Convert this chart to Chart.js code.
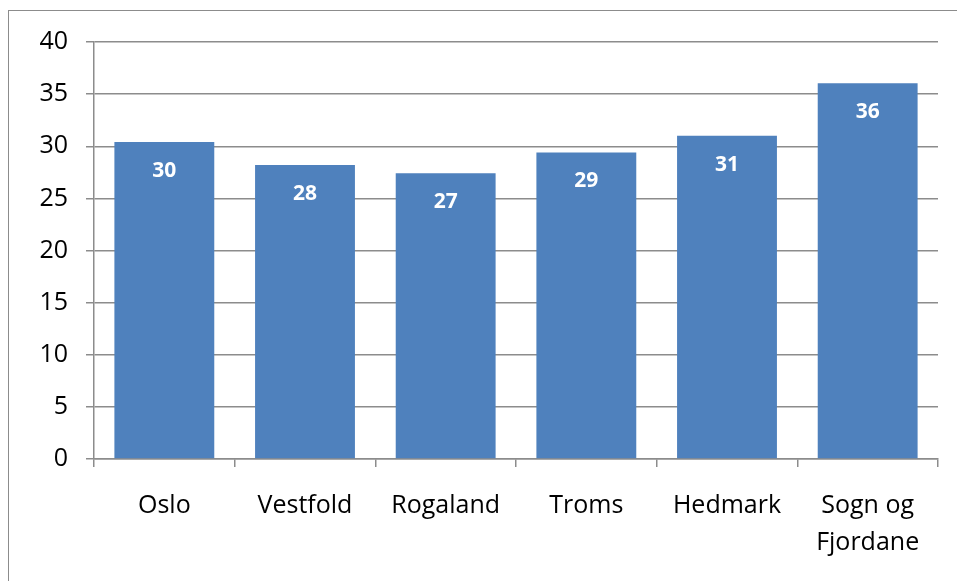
<!DOCTYPE html>
<html>
<head>
<meta charset="utf-8">
<script src="https://cdn.jsdelivr.net/npm/chart.js@4.4.1/dist/chart.umd.min.js"></script>
<style>
    html, body { margin: 0; padding: 0; background: #fff; overflow: hidden; }
    #wrap { position: relative; width: 957px; height: 581px; }
    #frame {
        position: absolute; left: 8px; top: 10px; width: 1200px; height: 1200px;
        border-left: 1.5px solid #8c8c8c; border-top: 1.5px solid #8c8c8c;
    }
    canvas { position: absolute; left: 0; top: 0; }
</style>
</head>
<body>
<div id="wrap">
    <div id="frame"></div>
    <canvas id="regionChart" width="957" height="581"></canvas>
</div>
<script>
const categories = ['Oslo', 'Vestfold', 'Rogaland', 'Troms', 'Hedmark', ['Sogn og', 'Fjordane']];
const values = [30.4, 28.2, 27.4, 29.4, 31.0, 36.05];
const yTicks = [0, 5, 10, 15, 20, 25, 30, 35, 40];

const FONT = 'Open Sans';
const GRID = '#8c8c8c';

// draws the rounded value inside each bar, near its top
const barLabels = {
    id: 'barLabels',
    afterDatasetsDraw(chart) {
        const ctx = chart.ctx;
        const meta = chart.getDatasetMeta(0);
        ctx.save();
        ctx.fillStyle = '#ffffff';
        ctx.font = `bold 21px "${FONT}"`;
        ctx.textAlign = 'center';
        ctx.textBaseline = 'middle';
        meta.data.forEach((bar, i) => {
            ctx.fillText(Math.round(values[i]).toString(), bar.x, bar.y + 29);
        });
        ctx.restore();
    }
};

const ctx = document.getElementById('regionChart').getContext('2d');
new Chart(ctx, {
    type: 'bar',
    data: {
        labels: categories,
        datasets: [{
            data: values,
            backgroundColor: '#4f81bd',
            borderWidth: 0,
            barPercentage: 0.71,
            categoryPercentage: 1
        }]
    },
    options: {
        responsive: false,
        animation: false,
        layout: { padding: { top: 42, right: 19, left: 0, bottom: 0 } },
        plugins: { legend: { display: false }, tooltip: { enabled: false } },
        scales: {
            x: {
                offset: true,
                grid: { display: true, drawOnChartArea: false, color: GRID, lineWidth: 1.5, tickLength: 8, offset: true },
                border: { display: true, color: GRID, width: 1.5 },
                ticks: { color: '#000', padding: 21, maxRotation: 0, autoSkip: false,
                    font: { family: FONT, size: 25, lineHeight: 1.45 } },
                afterFit(scale) { scale.height = 122; }
            },
            y: {
                min: 0, max: 40,
                afterBuildTicks(scale) { scale.ticks = yTicks.map(v => ({ value: v })); },
                grid: { color: GRID, lineWidth: 1.5, tickLength: 8 },
                border: { display: true, color: GRID, width: 1.5 },
                ticks: { color: '#000', padding: 18, font: { family: FONT, size: 25 } },
                afterFit(scale) { scale.width = 94; }
            }
        }
    },
    plugins: [barLabels]
});
</script>
</body>
</html>
